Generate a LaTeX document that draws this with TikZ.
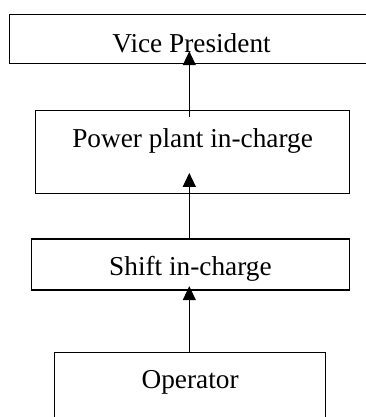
\documentclass[tikz,border=0pt]{standalone}
\usepackage{fontspec}
\setmainfont{Liberation Serif}
\usetikzlibrary{arrows.meta,calc}
\tikzset{
  box/.style={draw=black, line width=1.2pt, rectangle, inner sep=0pt, anchor=north west,
    font=\fontsize{27.3}{32}\selectfont},
  arr/.style={draw=black, line width=1.2pt, -{Triangle[width=13pt,length=14pt]}},
}
\begin{document}
\begin{tikzpicture}[x=1pt,y=-1pt]
\useasboundingbox (0,0) rectangle (365,417);
% baseline = center + (h-d)/2
\node[box, minimum width=364pt, minimum height=49pt, text height=30pt, text depth=3.6pt] (vp) at (9,14) {Vice President};
\node[box, minimum width=314pt, minimum height=82.7pt, text height=21pt, text depth=29.8pt] (pp) at (35,110) {Power plant in-charge};
\node[box, minimum width=318.3pt, minimum height=51pt, text height=26pt, text depth=3.6pt] (sh) at (30.7,238.3) {Shift in-charge};
\node[box, minimum width=271pt, minimum height=80pt, text height=24pt, text depth=31pt] (op) at (54,351.7) {Operator};
\coordinate (ax) at (189.3,0);
\draw[arr] ([yshift=-6.5pt]pp.north -| ax) -- ([yshift=13pt]vp.south -| ax);
\draw[arr] (sh.north -| ax) -- ([yshift=21pt]pp.south -| ax);
\draw[arr] (op.north -| ax) -- ([yshift=4.3pt]sh.south -| ax);
\end{tikzpicture}
\end{document}
